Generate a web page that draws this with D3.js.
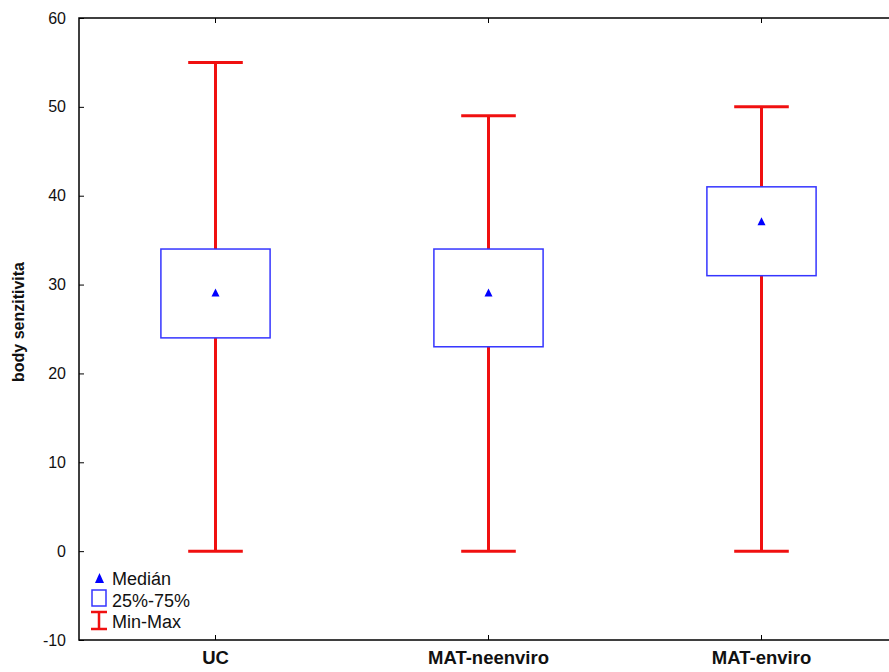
<!DOCTYPE html>
<html>
<head>
<meta charset="utf-8">
<script src="https://cdn.jsdelivr.net/npm/d3@7"></script>
<style>
	body { margin: 0; background: #fff; }
	text { font-family: "Liberation Sans", Arial, sans-serif; }
</style>
</head>
<body>
<div id="chart"></div>
<script>
var categories = ["UC", "MAT-neenviro", "MAT-enviro"];
var mins = [0, 0, 0];
var maxs = [55, 49, 50];
var q1s = [24, 23, 31];
var q3s = [34, 34, 41];
var medians = [29, 29, 37];
var yTicks = [-10, 0, 10, 20, 30, 40, 50, 60];

function drawChart() {
	var width = 889,
		height = 672;
	var left = 79, top = 18, bottom = 640, right = 898;

	var svg = d3.select("#chart").append("svg")
		.attr("width", width)
		.attr("height", height);

	var y = d3.scaleLinear().domain([-10, 60]).range([bottom, top]);
	var x = d3.scaleBand().domain(categories).range([left, right]);

	var data = categories.map(function(c, i) {
		return { cat: c, min: mins[i], max: maxs[i], q1: q1s[i], q3: q3s[i], med: medians[i] };
	});

	// frame
	svg.append("path")
		.attr("d", "M" + width + "," + top + "H" + left + "V" + bottom + "H" + width)
		.style("fill", "none")
		.style("stroke", "#000")
		.style("stroke-width", "1.5px");

	// left axis, ticks point inward
	var yAxis = svg.append("g")
		.attr("transform", "translate(" + left + ",0)")
		.call(d3.axisLeft(y).tickValues(yTicks).tickSize(-5).tickPadding(13)
			.tickFormat(function(d) { return String(d); }));
	yAxis.select(".domain").remove();
	yAxis.selectAll("text").style("font-size", "16px").style("fill", "#111");

	var xAxis = svg.append("g")
		.attr("transform", "translate(0," + bottom + ")")
		.call(d3.axisBottom(x).tickSize(-5).tickPadding(11));
	xAxis.select(".domain").remove();
	xAxis.selectAll("text").style("font-size", "18.5px").style("font-weight", "bold").style("fill", "#111");

	var xTop = svg.append("g")
		.attr("transform", "translate(0," + top + ")")
		.call(d3.axisTop(x).tickSize(-5).tickFormat(""));
	xTop.select(".domain").remove();

	svg.append("text")
		.attr("transform", "translate(24," + 322 + ") rotate(-90)")
		.attr("text-anchor", "middle")
		.style("font-size", "16px")
		.style("font-weight", "bold")
		.style("fill", "#111")
		.text("body senzitivita");

	var bw = x.bandwidth();
	var boxW = bw * 0.4, capW = bw * 0.2;

	var groups = svg.selectAll("g.box")
		.data(data)
		.enter()
			.append("g")
			.attr("class", "box")
			.attr("transform", function(d) { return "translate(" + (x(d.cat) + bw / 2) + ",0)"; });

	// whiskers
	groups.append("line")
		.attr("y1", function(d) { return y(d.min); })
		.attr("y2", function(d) { return y(d.max); })
		.style("stroke", "#f01010").style("stroke-width", "3px");
	groups.append("line")
		.attr("x1", -capW / 2).attr("x2", capW / 2)
		.attr("y1", function(d) { return y(d.max); })
		.attr("y2", function(d) { return y(d.max); })
		.style("stroke", "#f01010").style("stroke-width", "3px");
	groups.append("line")
		.attr("x1", -capW / 2).attr("x2", capW / 2)
		.attr("y1", function(d) { return y(d.min); })
		.attr("y2", function(d) { return y(d.min); })
		.style("stroke", "#f01010").style("stroke-width", "3px");

	// boxes
	groups.append("rect")
		.attr("x", -boxW / 2)
		.attr("width", boxW)
		.attr("y", function(d) { return y(d.q3); })
		.attr("height", function(d) { return y(d.q1) - y(d.q3); })
		.style("fill", "#fff")
		.style("stroke", "#3535ff")
		.style("stroke-width", "1.5px");

	// medians
	groups.append("path")
		.attr("d", function(d) { var m = y(d.med); return "M-4," + (m + 3) + "L4," + (m + 3) + "L0," + (m - 5) + "Z"; })
		.style("fill", "#0000ff");

	// legend
	var lg = svg.append("g").attr("class", "legend");
	lg.append("path").attr("d", "M95,583L104,583L99.5,573Z").style("fill", "#0000ff");
	lg.append("text").attr("x", 112).attr("y", 585).style("font-size", "18px").style("fill", "#111").text("Medián");
	lg.append("rect").attr("x", 92).attr("y", 590).attr("width", 14).attr("height", 16)
		.style("fill", "#fff").style("stroke", "#3535ff").style("stroke-width", "1.5px");
	lg.append("text").attr("x", 112).attr("y", 607).style("font-size", "18px").style("fill", "#111").text("25%-75%");
	lg.append("path").attr("d", "M91,612H107M99,612V629M91,629H107")
		.style("fill", "none").style("stroke", "#f01010").style("stroke-width", "2.5px");
	lg.append("text").attr("x", 112).attr("y", 628).style("font-size", "18px").style("fill", "#111").text("Min-Max");
}

drawChart();
</script>
</body>
</html>
